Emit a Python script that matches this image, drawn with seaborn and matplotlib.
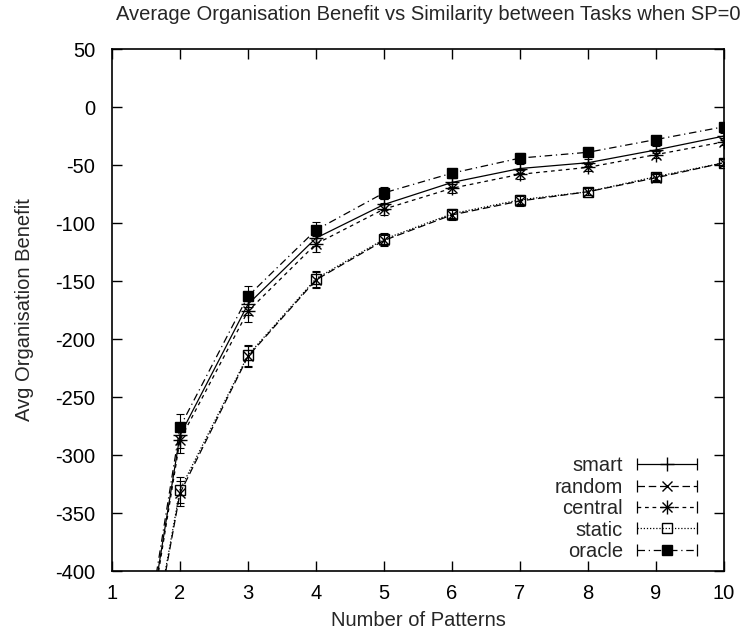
import numpy as np
import matplotlib
matplotlib.use("Agg")
import matplotlib.pyplot as plt
import seaborn as sns
from matplotlib.lines import Line2D
from matplotlib.legend_handler import HandlerBase

# Number of patterns on the x axis
patterns = [1, 2, 3, 4, 5, 6, 7, 8, 9, 10]

# Average organisation benefit per strategy
smart = [-645, -283, -170, -113, -84, -65, -53, -48, -37, -25]
random_ = [-655, -333, -215, -149, -115, -93, -81, -73, -61, -48]
central = [-648, -287, -176, -118, -88, -70, -58, -52, -41, -30]
static = [-655, -330, -214, -148, -114, -92, -80, -73, -60, -48]
oracle = [-640, -276, -163, -106, -74, -57, -44, -39, -28, -17]

# Standard error of each mean
err = [14, 11, 9, 7, 5, 4, 4, 3, 3, 3]

series_names = ["smart", "random", "central", "static", "oracle"]
series_values = [smart, random_, central, static, oracle]

y_ticks = [50, 0, -50, -100, -150, -200, -250, -300, -350, -400]
x_ticks = [1, 2, 3, 4, 5, 6, 7, 8, 9, 10]

sns.set_theme(style="ticks")
plt.rcParams["font.family"] = ["Liberation Sans", "DejaVu Sans"]
plt.rcParams["axes.unicode_minus"] = False
FS = 14.5

styles = {
    "smart": dict(ls="-", marker="+", mfc="black", ms=10),
    "random": dict(ls=(0, (6, 3)), marker="x", mfc="black", ms=7),
    "central": dict(ls=(0, (3, 3)), marker="*", mfc="black", ms=8),
    "static": dict(ls=(0, (1, 1.5)), marker="s", mfc="none", ms=7),
    "oracle": dict(ls=(0, (6, 3, 1, 3)), marker="s", mfc="black", ms=7),
}


def draw_marker(ax_or_none, name, xs, ys, transform=None):
    """Draw the point symbol of a series; 'central' is an asterisk (+ and x)."""
    st = styles[name]
    arts = []
    if name == "central":
        for m, s in (("+", 10), ("x", 7)):
            arts.append(Line2D(xs, ys, ls="none", marker=m, ms=s, color="black",
                               mew=1.0))
    else:
        arts.append(Line2D(xs, ys, ls="none", marker=st["marker"], ms=st["ms"],
                           color="black", mfc=st["mfc"], mec="black", mew=1.0))
    for a in arts:
        if transform is not None:
            a.set_transform(transform)
        elif ax_or_none is not None:
            ax_or_none.add_line(a)
    return arts


class HandlerErrLine(HandlerBase):
    def create_artists(self, legend, orig_handle, xdescent, ydescent, width,
                       height, fontsize, trans):
        name = orig_handle.get_label()
        y = height / 2 - ydescent
        x0, x1 = -xdescent, width - xdescent
        line = Line2D([x0, x1], [y, y], ls=styles[name]["ls"], color="black", lw=0.9)
        caps = Line2D([x0, x1], [y, y], ls="none", marker="|", ms=8, mew=0.9,
                      color="black")
        line.set_transform(trans)
        caps.set_transform(trans)
        mk = draw_marker(None, name, [(x0 + x1) / 2], [y], transform=trans)
        return [line, caps] + mk


fig = plt.figure(figsize=(7.43, 6.37), dpi=100)
ax = fig.add_axes([0.1507, 0.1036, 0.8237, 0.8194])

handles = []
for name, vals in zip(series_names, series_values):
    st = styles[name]
    sns.lineplot(x=patterns, y=vals, ax=ax, color="black", lw=0.9,
                 linestyle=st["ls"], legend=False)
    ax.errorbar(patterns, vals, yerr=err, fmt="none", ecolor="black",
                elinewidth=0.8, capsize=3, capthick=0.8)
    draw_marker(ax, name, patterns, vals)
    handles.append(Line2D([], [], label=name))

ax.set_xlim(1, 10)
ax.set_ylim(-400, 50)
ax.set_xticks(x_ticks)
ax.set_yticks(y_ticks)
ax.tick_params(direction="in", length=7, width=1, top=True, right=True,
               labelsize=FS, colors="black")
ax.tick_params(axis="y", pad=12)
ax.tick_params(axis="x", pad=9)
for sp in ax.spines.values():
    sp.set_visible(True)
    sp.set_linewidth(1.2)
    sp.set_color("black")

ax.set_xlabel("Number of Patterns", fontsize=FS, labelpad=6)
ax.set_ylabel("Avg Organisation Benefit", fontsize=FS, labelpad=15)
fig.text(0.576, 1 - 14 / 637, "Average Organisation Benefit vs Similarity between Tasks when SP=0",
         ha="center", va="center", fontsize=FS)

ax.legend(handles=handles, labels=series_names, handler_map={Line2D: HandlerErrLine()},
          loc="lower right", bbox_to_anchor=(0.973, 0.0), frameon=False,
          markerfirst=False, fontsize=FS, handlelength=3.0, handletextpad=0.7,
          labelspacing=0.12, borderaxespad=0.1)

fig.savefig("out.png", dpi=100)
